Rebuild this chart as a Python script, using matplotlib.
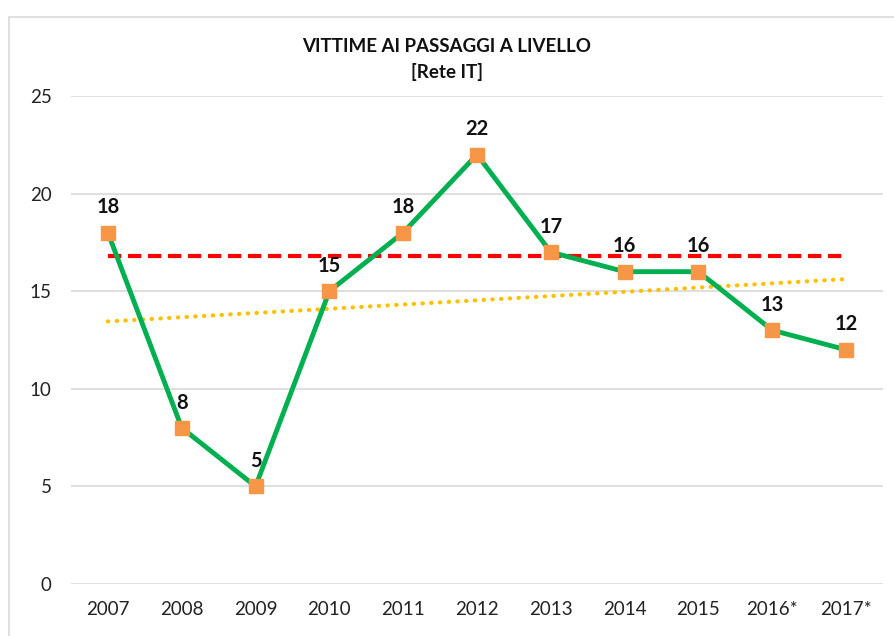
import matplotlib
matplotlib.use("Agg")
import matplotlib.pyplot as plt
from matplotlib.patches import Rectangle

years = ["2007", "2008", "2009", "2010", "2011", "2012", "2013", "2014", "2015", "2016*", "2017*"]
victims = [18, 8, 5, 15, 18, 22, 17, 16, 16, 13, 12]
average_level = [16.8, 16.8]
trend_level = [13.45, 15.62]
yticks = [0, 5, 10, 15, 20, 25]

plt.rcParams['font.family'] = ['Lato', 'DejaVu Sans']

fig = plt.figure(figsize=(8.94, 6.36), dpi=100)
W, H = 894, 636
ax = fig.add_axes([71 / W, 1 - 584 / H, (883 - 71) / W, (584 - 96) / H])

x = list(range(len(years)))
ax.set_xlim(-0.5, len(years) - 0.5)
ax.set_ylim(0, 25)
ax.set_yticks(yticks)
ax.grid(axis='y', color='#D9D9D9', linewidth=1.2)
ax.set_axisbelow(True)
for s in ax.spines.values():
    s.set_visible(False)
ax.tick_params(length=0, labelsize=13.5, colors='#222222')
ax.tick_params(axis='y', pad=14)
ax.tick_params(axis='x', pad=12)
ax.set_xticks(x)
ax.set_xticklabels(years)

ax.plot([x[0], x[-1]], average_level, color='#FF0000', linewidth=3, linestyle=(0, (3.2, 1.6)), zorder=2)
ax.plot([x[0], x[-1]], trend_level, color='#FFC000', linewidth=3, linestyle=(0, (0.1, 2.0)),
        dash_capstyle='round', zorder=2)
ax.plot(x, victims, color='#00B050', linewidth=3.5, marker='s', markersize=10,
        markerfacecolor='#F79646', markeredgecolor='#F79646', zorder=3)

for xi, v in zip(x, victims):
    ax.annotate(str(v), (xi, v), xytext=(0, 11), textcoords='offset points',
                ha='center', va='bottom', fontsize=14.5, fontweight='bold', color='#111111')

fig.text(0.5, 1 - 47 / H, "VITTIME AI PASSAGGI A LIVELLO", ha='center', va='center',
         fontsize=13.5, fontweight='bold', color='#111111')
fig.text(0.5, 1 - 72 / H, "[Rete IT]", ha='center', va='center',
         fontsize=13.5, fontweight='bold', color='#111111')

fig.patches.append(Rectangle((8.5 / W, -0.1), 1.2, 1 - 17 / H + 0.1, transform=fig.transFigure,
                             fill=False, edgecolor='#D9D9D9', linewidth=1.2))

fig.savefig("out.png", dpi=100)
